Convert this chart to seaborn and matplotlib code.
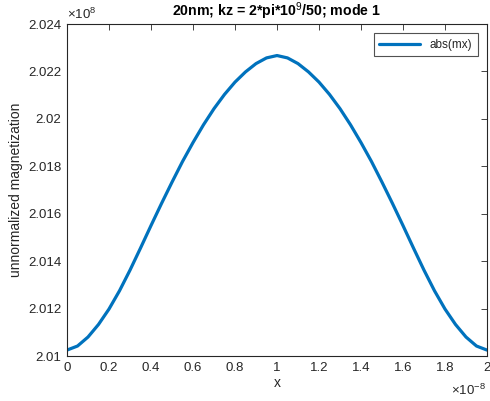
import numpy as np
import pandas as pd
import seaborn as sns
import matplotlib
matplotlib.use("Agg")
import matplotlib.pyplot as plt
from matplotlib.ticker import FuncFormatter

# x in units of 1e-8, y in units of 1e8
x_half = [0.00, 0.05, 0.10, 0.15, 0.20, 0.25, 0.30, 0.35, 0.40, 0.45, 0.50,
          0.55, 0.60, 0.65, 0.70, 0.75, 0.80, 0.85, 0.90, 0.95, 1.00]
y_half = [2.01025, 2.01042, 2.01080, 2.01133, 2.01198, 2.01275, 2.01362, 2.01455,
          2.01550, 2.01643, 2.01733, 2.01820, 2.01900, 2.01975, 2.02043, 2.02103,
          2.02155, 2.02198, 2.02233, 2.02257, 2.02267]
x_vals = x_half + [round(2.0 - v, 2) for v in x_half[-2::-1]]
y_vals = y_half + y_half[-2::-1]

xticks = [0, 0.2, 0.4, 0.6, 0.8, 1.0, 1.2, 1.4, 1.6, 1.8, 2.0]
yticks = [2.010, 2.012, 2.014, 2.016, 2.018, 2.020, 2.022, 2.024]

title = "20nm; kz = 2*pi*10$^{9}$/50; mode 1"
series_name = "abs(mx)"

df = pd.DataFrame({"x": x_vals, "y": y_vals, "s": series_name})

sns.set_style("white")
plt.rcParams["font.family"] = ["Liberation Sans", "DejaVu Sans"]
plt.rcParams["mathtext.fontset"] = "custom"
plt.rcParams["mathtext.rm"] = "Liberation Sans"
plt.rcParams["mathtext.bf"] = "Liberation Sans:bold"

fig = plt.figure(figsize=(4.9, 4.01), dpi=100)
ax = fig.add_axes([67/490, 1-356/401, (487-67)/490, (356-24)/401])

sns.lineplot(data=df, x="x", y="y", hue="s", palette=["#0072BD"], linewidth=2.3,
             ax=ax, sort=False)
for ln in ax.get_lines():
    ln.set_solid_joinstyle("round")

ax.set_xlim(0, 2)
ax.set_ylim(2.010, 2.024)
ax.set_xticks(xticks)
ax.set_yticks(yticks)
fmt = FuncFormatter(lambda v, p: f"{v:g}")
ax.xaxis.set_major_formatter(fmt)
ax.yaxis.set_major_formatter(fmt)

tc = "#262626"
ax.tick_params(direction="in", length=4, width=0.6, colors=tc, labelsize=9.5,
               top=True, right=True, pad=4, labelcolor=tc)
for sp in ax.spines.values():
    sp.set_visible(True)
    sp.set_color(tc)
    sp.set_linewidth(0.8)

ax.set_xlabel("x", fontsize=10, color=tc, labelpad=2)
ax.set_ylabel("unnormalized magnetization", fontsize=10, color=tc, labelpad=4)
ax.set_title(title, fontsize=10.2, fontweight="bold", color="black", pad=6)

ax.text(0.0, 1.005, r"$\times10^{8}$", transform=ax.transAxes, fontsize=9.5,
        color=tc, ha="left", va="bottom")
ax.text(0.998, -0.082, r"$\times10^{-8}$", transform=ax.transAxes, fontsize=9.5,
        color=tc, ha="right", va="top")

leg = ax.legend(loc="upper right", frameon=True, fontsize=8.5, fancybox=False,
                handlelength=3.5, borderpad=0.45, borderaxespad=0.8)
leg.get_frame().set_edgecolor(tc)
leg.get_frame().set_linewidth(0.8)
for t in leg.get_texts():
    t.set_color(tc)

fig.savefig("out.png", dpi=100)
